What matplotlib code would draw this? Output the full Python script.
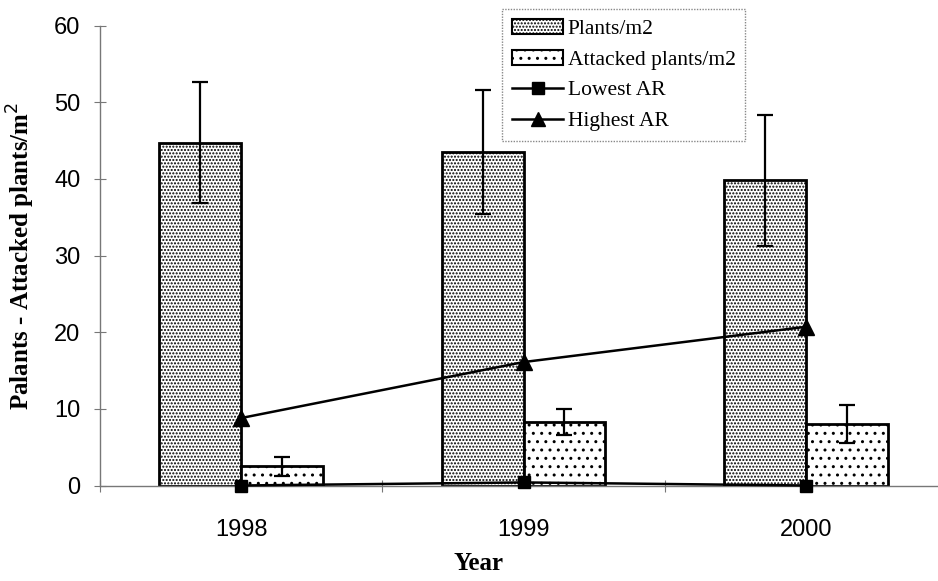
import matplotlib
matplotlib.use("Agg")
import matplotlib.pyplot as plt
import numpy as np
from matplotlib.patches import Patch
from matplotlib.lines import Line2D

years = ["1998", "1999", "2000"]
plants = [44.7, 43.5, 39.8]
plants_err = [7.9, 8.1, 8.5]
attacked = [2.5, 8.3, 8.0]
attacked_err = [1.2, 1.7, 2.5]
lowest_ar = [0.0, 0.4, 0.0]
highest_ar = [8.8, 16.1, 20.7]
y_ticks = [0, 10, 20, 30, 40, 50, 60]

W, H = 938, 581
plt.rcParams['hatch.linewidth'] = 1.0
fig = plt.figure(figsize=(W / 100, H / 100), dpi=100)
ax = fig.add_axes([100 / W, (H - 485.5) / H, 847 / W, 460 / H])

x = np.arange(len(years))
bw = 0.29

ax.bar(x - bw / 2, plants, width=bw, facecolor="white", edgecolor="black",
       hatch=".....", linewidth=2, zorder=2)
ax.errorbar(x - bw / 2, plants, yerr=plants_err, fmt="none", ecolor="black",
            elinewidth=1.6, capsize=5.5, capthick=1.6, zorder=3)
ax.bar(x + bw / 2, attacked, width=bw, facecolor="white", edgecolor="black",
       hatch="..", linewidth=2, zorder=2)
ax.errorbar(x + bw / 2, attacked, yerr=attacked_err, fmt="none", ecolor="black",
            elinewidth=1.6, capsize=5.5, capthick=1.6, zorder=3)

ax.plot(x, lowest_ar, color="black", linewidth=1.8, marker="s", markersize=9,
        zorder=4, clip_on=False)
ax.plot(x, highest_ar, color="black", linewidth=1.8, marker="^", markersize=11,
        zorder=4, clip_on=False)

ax.set_xlim(-0.5, 2.5)
ax.set_ylim(0, 60)
ax.set_yticks(y_ticks)
ax.set_xticks(x)
ax.set_xticklabels(years)
ax.set_xticks([-0.5, 0.5, 1.5, 2.5], minor=True)

for s in ["top", "right"]:
    ax.spines[s].set_visible(False)
ax.spines["left"].set_color("#777777")
ax.spines["left"].set_linewidth(1.0)
ax.spines["bottom"].set_color("#777777")
ax.spines["bottom"].set_linewidth(1.0)
ax.spines["bottom"].set_linestyle((0, (2, 1)))

ax.tick_params(axis="y", direction="inout", length=8, width=0.8, color="#777777",
               pad=10, labelsize=17)
ax.tick_params(axis="x", which="major", length=0, pad=24, labelsize=17)
ax.tick_params(axis="x", which="minor", direction="inout", length=8, width=0.8,
               color="#777777")
for lab in ax.get_xticklabels() + ax.get_yticklabels():
    lab.set_fontfamily("Liberation Sans")

ax.set_ylabel("Palants - Attacked plants/m$^{2}$", fontfamily="Liberation Serif",
              fontsize=18, fontweight="bold")
ax.yaxis.set_label_coords(-0.074, 0.5)
fig.text(478 / W, 1 - 563 / H, "Year", ha="center", va="center",
         fontfamily="Liberation Serif", fontsize=18, fontweight="bold")

handles = [
    Patch(facecolor="white", edgecolor="black", hatch=".....", linewidth=1.5),
    Patch(facecolor="white", edgecolor="black", hatch="..", linewidth=1.5),
    Line2D([], [], color="black", marker="s", markersize=8, linewidth=1.8),
    Line2D([], [], color="black", marker="^", markersize=10, linewidth=1.8),
]
labels = ["Plants/m2", "Attacked plants/m2", "Lowest AR", "Highest AR"]
leg = fig.legend(handles, labels, loc="upper left",
                 bbox_to_anchor=(502 / W, 1 - 9 / H), bbox_transform=fig.transFigure,
                 prop={"family": "Liberation Serif", "size": 15.5},
                 frameon=True, fancybox=False, edgecolor="#888888", framealpha=1,
                 handlelength=2.4, handletextpad=0.2, labelspacing=0.5,
                 borderpad=0.45, borderaxespad=0)
leg.get_frame().set_linewidth(1.0)
leg.get_frame().set_linestyle((0, (1, 1)))

fig.savefig("out.png", dpi=100)
